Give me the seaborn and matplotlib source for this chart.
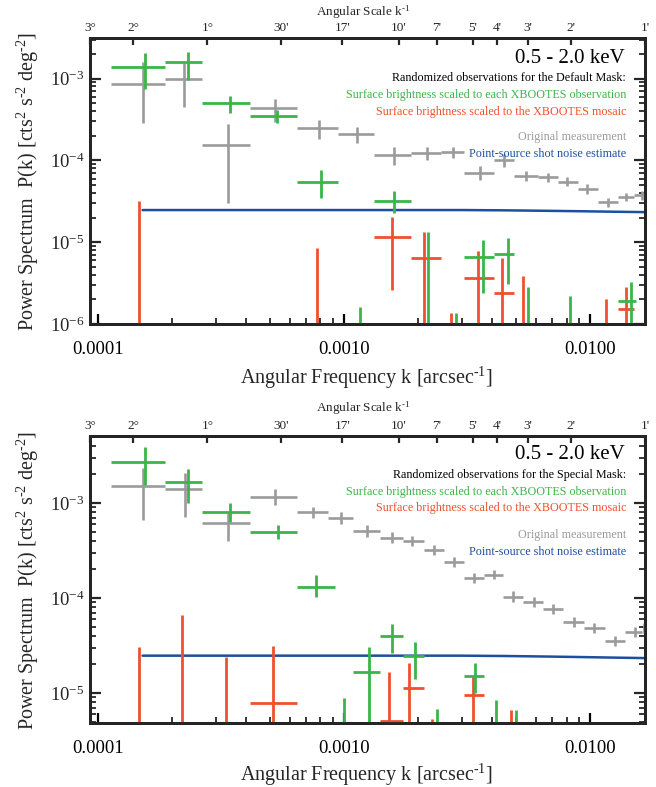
import numpy as np
import pandas as pd
import matplotlib
matplotlib.use("Agg")
import matplotlib.pyplot as plt
import seaborn as sns
from matplotlib.ticker import LogLocator, NullLocator, NullFormatter

# ---------------- data ----------------
# angular-scale axis (top)
top_tick_k = [1/10800, 1/7200, 1/3600, 1/1800, 1/1020, 1/600, 1/420, 1/300, 1/240, 1/180, 1/120, 1/60]
top_tick_labels = ["3°", "2°", "1°", "30'", "17'", "10'", "7'", "5'", "4'", "3'", "2'", "1'"]
bottom_tick_k = [1e-4, 1e-3, 1e-2]
bottom_tick_labels = ["0.0001", "0.0010", "0.0100"]

# shot noise estimate (same in both panels)
shot_k = [1.514e-4, 3.0e-3, 4.5e-3, 6.5e-3, 9.0e-3, 1.2e-2, 1.667e-2]
shot_p = [2.47e-5, 2.47e-5, 2.45e-5, 2.42e-5, 2.39e-5, 2.36e-5, 2.33e-5]

# ---- top panel: Default Mask ----
t_gray_k = [1.514e-4, 2.222e-4, 3.364e-4, 5.23e-4, 7.91e-4, 1.130e-3, 1.585e-3, 2.162e-3, 2.760e-3,
            3.56e-3, 4.46e-3, 5.48e-3, 6.75e-3, 8.05e-3, 9.73e-3, 1.184e-2, 1.40e-2, 1.615e-2]
t_gray_klo = [1.129e-4, 1.876e-4, 2.632e-4, 4.13e-4, 6.43e-4, 9.46e-4, 1.325e-3, 1.859e-3, 2.466e-3,
              3.06e-3, 4.06e-3, 4.90e-3, 6.14e-3, 7.40e-3, 8.93e-3, 1.078e-2, 1.30e-2, 1.51e-2]
t_gray_khi = [1.876e-4, 2.632e-4, 4.13e-4, 6.43e-4, 9.46e-4, 1.325e-3, 1.859e-3, 2.466e-3, 3.06e-3,
              4.06e-3, 4.90e-3, 6.14e-3, 7.40e-3, 8.93e-3, 1.078e-2, 1.30e-2, 1.51e-2, 1.72e-2]
t_gray_p = [8.57e-4, 9.86e-4, 1.54e-4, 4.35e-4, 2.48e-4, 2.10e-4, 1.16e-4, 1.23e-4, 1.26e-4,
            7.0e-5, 1.01e-4, 6.43e-5, 6.25e-5, 5.43e-5, 4.46e-5, 3.09e-5, 3.56e-5, 3.76e-5]
t_gray_plo = [2.86e-4, 4.49e-4, 3.0e-5, 2.94e-4, 1.82e-4, 1.63e-4, 8.77e-5, 1.01e-4, 1.07e-4,
              5.74e-5, 8.28e-5, 5.6e-5, 5.5e-5, 4.8e-5, 3.9e-5, 2.7e-5, 3.15e-5, 3.3e-5]
t_gray_phi = [1.59e-3, 1.55e-3, 2.78e-4, 5.61e-4, 3.11e-4, 2.55e-4, 1.46e-4, 1.46e-4, 1.46e-4,
              8.51e-5, 1.19e-4, 7.4e-5, 7.1e-5, 6.2e-5, 5.1e-5, 3.5e-5, 4.0e-5, 4.25e-5]

t_green_k = [1.542e-4, 2.307e-4, 3.43e-4, 5.33e-4, 8.05e-4, 1.162e-3, 1.585e-3, 2.18e-3, 2.84e-3,
             3.66e-3, 4.62e-3, 5.58e-3, 8.28e-3, 1.456e-2]
t_green_klo = [1.129e-4, 1.876e-4, 2.632e-4, 4.13e-4, 6.43e-4, 9.46e-4, 1.325e-3, 1.859e-3, 2.466e-3,
               3.06e-3, 4.06e-3, 4.90e-3, 7.40e-3, 1.30e-2]
t_green_khi = [1.876e-4, 2.632e-4, 4.13e-4, 6.43e-4, 9.46e-4, 1.325e-3, 1.859e-3, 2.466e-3, 3.06e-3,
               4.06e-3, 4.90e-3, 6.14e-3, 8.93e-3, 1.53e-2]
t_green_p = [1.38e-3, 1.59e-3, 5.01e-4, 3.48e-4, 5.43e-5, 5e-7, 3.18e-5, 5e-7, 5e-7,
             6.58e-6, 7.15e-6, 5e-7, 5e-7, 1.90e-6]
t_green_plo = [7.44e-4, 9.59e-4, 3.79e-4, 2.86e-4, 3.46e-5, 1e-8, 2.27e-5, 1e-8, 1e-8,
               2.39e-6, 3.08e-6, 1e-8, 1e-8, 1e-8]
t_green_phi = [2.05e-3, 2.11e-3, 6.11e-4, 4.12e-4, 7.6e-5, 1.61e-6, 4.22e-5, 1.33e-5, 1.36e-6,
               1.06e-5, 1.12e-5, 2.83e-6, 2.19e-6, 3.25e-6]

t_red_k = [1.469e-4, 7.76e-4, 1.556e-3, 2.10e-3, 2.71e-3, 3.49e-3, 4.38e-3, 5.33e-3, 1.162e-2, 1.40e-2]
t_red_klo = [1.129e-4, 6.43e-4, 1.325e-3, 1.859e-3, 2.466e-3, 3.06e-3, 4.06e-3, 4.90e-3, 1.078e-2, 1.30e-2]
t_red_khi = [1.876e-4, 9.46e-4, 1.859e-3, 2.466e-3, 3.06e-3, 4.06e-3, 4.90e-3, 6.14e-3, 1.30e-2, 1.51e-2]
t_red_p = [5e-7, 5e-7, 1.16e-5, 6.4e-6, 5e-7, 3.64e-6, 2.39e-6, 5e-7, 5e-7, 1.52e-6]
t_red_plo = [1e-8, 1e-8, 2.60e-6, 1e-8, 1e-8, 1e-8, 1e-8, 1e-8, 1e-8, 1e-8]
t_red_phi = [3.18e-5, 8.47e-6, 2.03e-5, 1.33e-5, 1.36e-6, 7.78e-6, 6.4e-6, 3.85e-6, 2.01e-6, 2.83e-6]

# ---- bottom panel: Special Mask ----
b_gray_k = [1.514e-4, 2.244e-4, 3.364e-4, 5.23e-4, 7.47e-4, 9.72e-4, 1.241e-3, 1.556e-3, 1.877e-3,
            2.31e-3, 2.79e-3, 3.36e-3, 4.06e-3, 4.85e-3, 5.91e-3, 7.06e-3, 8.61e-3, 1.038e-2,
            1.253e-2, 1.513e-2, 1.655e-2]
b_gray_klo = [1.129e-4, 1.876e-4, 2.632e-4, 4.13e-4, 6.43e-4, 8.61e-4, 1.088e-3, 1.402e-3, 1.725e-3,
              2.10e-3, 2.54e-3, 3.06e-3, 3.69e-3, 4.42e-3, 5.33e-3, 6.43e-3, 7.76e-3, 9.46e-3,
              1.141e-2, 1.377e-2, 1.63e-2]
b_gray_khi = [1.876e-4, 2.632e-4, 4.13e-4, 6.43e-4, 8.61e-4, 1.088e-3, 1.402e-3, 1.725e-3, 2.10e-3,
              2.54e-3, 3.06e-3, 3.69e-3, 4.42e-3, 5.33e-3, 6.43e-3, 7.76e-3, 9.46e-3, 1.141e-2,
              1.377e-2, 1.615e-2, 1.75e-2]
b_gray_p = [1.51e-3, 1.40e-3, 6.16e-4, 1.16e-3, 8.04e-4, 6.95e-4, 5.07e-4, 4.28e-4, 3.98e-4,
            3.2e-4, 2.39e-4, 1.63e-4, 1.75e-4, 1.03e-4, 9.08e-5, 7.66e-5, 5.58e-5, 4.83e-5,
            3.52e-5, 4.39e-5, 4.83e-5]
b_gray_plo = [6.62e-4, 7.12e-4, 3.98e-4, 9.53e-4, 6.95e-4, 6.0e-4, 4.4e-4, 3.75e-4, 3.55e-4,
              2.8e-4, 2.1e-4, 1.43e-4, 1.57e-4, 9.0e-5, 8.0e-5, 6.8e-5, 4.95e-5, 4.3e-5,
              3.1e-5, 3.9e-5, 4.3e-5]
b_gray_phi = [2.33e-3, 2.07e-3, 7.85e-4, 1.40e-3, 9.08e-4, 8.0e-4, 5.8e-4, 4.9e-4, 4.5e-4,
              3.65e-4, 2.7e-4, 1.85e-4, 1.95e-4, 1.17e-4, 1.03e-4, 8.6e-5, 6.3e-5, 5.45e-5,
              4.0e-5, 4.95e-5, 5.4e-5]

b_green_k = [1.542e-4, 2.307e-4, 3.43e-4, 5.38e-4, 7.69e-4, 1.0e-3, 1.265e-3, 1.556e-3, 1.932e-3,
             2.38e-3, 3.40e-3, 4.13e-3, 4.99e-3]
b_green_klo = [1.129e-4, 1.876e-4, 2.632e-4, 4.13e-4, 6.43e-4, 8.61e-4, 1.088e-3, 1.402e-3, 1.725e-3,
               2.10e-3, 3.06e-3, 3.69e-3, 4.42e-3]
b_green_khi = [1.876e-4, 2.632e-4, 4.13e-4, 6.43e-4, 9.2e-4, 1.088e-3, 1.402e-3, 1.725e-3, 2.10e-3,
               2.54e-3, 3.69e-3, 4.42e-3, 5.33e-3]
b_green_p = [2.70e-3, 1.66e-3, 8.04e-4, 4.95e-4, 1.31e-4, 1e-6, 1.66e-5, 3.98e-5, 2.45e-5,
             1e-6, 1.51e-5, 1e-6, 1e-6]
b_green_plo = [1.55e-3, 1.0e-3, 6.31e-4, 4.18e-4, 1.03e-4, 1e-8, 1e-8, 2.64e-5, 1.40e-5,
               1e-8, 1.0e-5, 1e-8, 1e-8]
b_green_phi = [3.88e-3, 2.28e-3, 1.0e-3, 5.86e-4, 1.75e-4, 8.86e-6, 3.05e-5, 5.32e-5, 3.44e-5,
               6.79e-6, 2.07e-5, 8.44e-6, 6.62e-6]

b_red_k = [1.469e-4, 2.20e-4, 3.30e-4, 5.13e-4, 1.514e-3, 1.84e-3, 2.27e-3, 3.33e-3, 4.76e-3]
b_red_klo = [1.129e-4, 1.876e-4, 2.632e-4, 4.13e-4, 1.402e-3, 1.725e-3, 2.10e-3, 3.06e-3, 4.42e-3]
b_red_khi = [1.876e-4, 2.632e-4, 4.13e-4, 6.43e-4, 1.725e-3, 2.10e-3, 2.54e-3, 3.69e-3, 5.33e-3]
b_red_p = [1e-6, 1e-6, 1e-6, 7.85e-6, 5.07e-6, 1.13e-5, 1e-6, 9.53e-6, 1e-6]
b_red_plo = [1e-8, 1e-8, 1e-8, 1e-8, 1e-8, 1e-8, 1e-8, 1e-8, 1e-8]
b_red_phi = [3.05e-5, 6.62e-5, 2.39e-5, 3.13e-5, 1.66e-5, 2.07e-5, 5.3e-6, 1.51e-5, 6.62e-6]

panel_masks = ["Default", "Special"]
top_ylim = (1e-6, 3.13e-3)
bot_ylim = (4.83e-6, 5.07e-3)
xlim = (1/10800, 1/60)

# ---------------- style ----------------
sns.set_theme(style="ticks")
plt.rcParams["font.family"] = ["Liberation Serif", "DejaVu Serif"]
plt.rcParams["mathtext.fontset"] = "custom"
plt.rcParams["mathtext.rm"] = "Liberation Serif"
plt.rcParams["mathtext.it"] = "Liberation Serif:italic"
plt.rcParams["mathtext.bf"] = "Liberation Serif:bold"
plt.rcParams["axes.unicode_minus"] = False

GREEN = "#3BB54A"
RED = "#F0502F"
GRAY = "#9B9B9B"
BLUE = "#1C4F9E"

fig = plt.figure(figsize=(6.56, 7.87), dpi=100)
L, W = 90 / 656, 555 / 656
ax_top = fig.add_axes([L, 1 - 324 / 787, W, 286 / 787])
ax_bot = fig.add_axes([L, 1 - 723 / 787, W, 287 / 787])


def draw_err(ax, k, klo, khi, p, plo, phi, color, lw, z):
    k = np.asarray(k); klo = np.asarray(klo); khi = np.asarray(khi)
    p = np.asarray(p); plo = np.asarray(plo); phi = np.asarray(phi)
    ax.errorbar(k, p, xerr=[k - klo, khi - k], yerr=[p - plo, phi - p], fmt="none",
                ecolor=color, elinewidth=lw, capsize=0, zorder=z)


def style_axes(ax, ylim, mask, title_y):
    ax.set_xscale("log")
    ax.set_yscale("log")
    ax.set_xlim(*xlim)
    ax.set_ylim(*ylim)
    for s in ax.spines.values():
        s.set_visible(True)
        s.set_linewidth(2.0)
        s.set_color("black")
    ax.set_xticks(bottom_tick_k)
    ax.set_xticklabels(bottom_tick_labels)
    ax.xaxis.set_minor_locator(LogLocator(base=10, subs=np.arange(2, 10)))
    ax.xaxis.set_minor_formatter(NullFormatter())
    ax.yaxis.set_major_locator(LogLocator(base=10, numticks=20))
    ax.yaxis.set_minor_locator(LogLocator(base=10, subs=np.arange(2, 10), numticks=20))
    ax.yaxis.set_minor_formatter(NullFormatter())
    ax.tick_params(axis="x", which="major", direction="in", length=7, width=1.6,
                   labelsize=13.5, pad=12, top=False, bottom=True, colors="black")
    ax.tick_params(axis="x", which="minor", direction="in", length=4, width=1.3,
                   top=False, bottom=True)
    ax.tick_params(axis="y", which="major", direction="in", length=8, width=1.6,
                   labelsize=13.5, pad=4, left=True, right=True)
    ax.tick_params(axis="y", which="minor", direction="in", length=4.5, width=1.3,
                   left=True, right=True)
    ax.grid(False)
    ax.set_facecolor("white")

    ax2 = ax.twiny()
    ax2.set_xscale("log")
    ax2.set_xlim(*xlim)
    ax2.set_xticks(top_tick_k)
    ax2.set_xticklabels(top_tick_labels)
    ax2.xaxis.set_minor_locator(NullLocator())
    ax2.tick_params(axis="x", which="major", direction="in", length=5, width=1.6,
                    labelsize=9.5, pad=3)
    for s in ax2.spines.values():
        s.set_linewidth(2.0)

    xr = 0.966
    ax.text(0.964, title_y[0], "0.5 - 2.0 keV", transform=ax.transAxes, ha="right",
            va="center", fontsize=15, color="black")
    ax.text(xr, title_y[1], f"Randomized observations for the {mask} Mask:",
            transform=ax.transAxes, ha="right", va="center", fontsize=8.7, color="black")
    ax.text(xr, title_y[2], "Surface brightness scaled to each XBOOTES observation",
            transform=ax.transAxes, ha="right", va="center", fontsize=8.7, color=GREEN)
    ax.text(xr, title_y[3], "Surface brightness scaled to the XBOOTES mosaic",
            transform=ax.transAxes, ha="right", va="center", fontsize=8.7, color=RED)
    ax.text(xr, title_y[4], "Original measurement",
            transform=ax.transAxes, ha="right", va="center", fontsize=8.7, color=GRAY)
    ax.text(xr, title_y[5], "Point-source shot noise estimate",
            transform=ax.transAxes, ha="right", va="center", fontsize=8.7, color=BLUE)


shot_df = pd.DataFrame({"k": shot_k, "P": shot_p})

# top panel
sns.lineplot(data=shot_df, x="k", y="P", ax=ax_top, color=BLUE, linewidth=1.8,
             legend=False, zorder=2, estimator=None, sort=True)
draw_err(ax_top, t_gray_k, t_gray_klo, t_gray_khi, t_gray_p, t_gray_plo, t_gray_phi, GRAY, 1.9, 3)
draw_err(ax_top, t_red_k, t_red_klo, t_red_khi, t_red_p, t_red_plo, t_red_phi, RED, 2.0, 4)
draw_err(ax_top, t_green_k, t_green_klo, t_green_khi, t_green_p, t_green_plo, t_green_phi, GREEN, 2.0, 5)
ax_top.set_xlabel("")
ax_top.set_ylabel("")
style_axes(ax_top, top_ylim, panel_masks[0], [0.930, 0.860, 0.801, 0.741, 0.654, 0.594])

# bottom panel
sns.lineplot(data=shot_df, x="k", y="P", ax=ax_bot, color=BLUE, linewidth=1.8,
             legend=False, zorder=2, estimator=None, sort=True)
draw_err(ax_bot, b_gray_k, b_gray_klo, b_gray_khi, b_gray_p, b_gray_plo, b_gray_phi, GRAY, 1.9, 3)
draw_err(ax_bot, b_red_k, b_red_klo, b_red_khi, b_red_p, b_red_plo, b_red_phi, RED, 2.0, 4)
draw_err(ax_bot, b_green_k, b_green_klo, b_green_khi, b_green_p, b_green_plo, b_green_phi, GREEN, 2.0, 5)
ax_bot.set_xlabel("")
ax_bot.set_ylabel("")
style_axes(ax_bot, bot_ylim, panel_masks[1], [0.934, 0.864, 0.805, 0.749, 0.655, 0.596])

# axis titles (figure coordinates)
ylab = r"Power Spectrum  P(k) [cts$^2$ s$^{\text{-}2}$ deg$^{\text{-}2}$]"
xlab = r"Angular Frequency k [arcsec$^{\text{-}1}$]"
toplab = r"Angular Scale k$^{\text{-}1}$"
fig.text(363 / 656, 1 - 12 / 787, toplab, ha="center", va="center", fontsize=9.5)
fig.text(363 / 656, 1 - 408 / 787, toplab, ha="center", va="center", fontsize=9.5)
fig.text(366 / 656, 1 - 378 / 787, xlab, ha="center", va="center", fontsize=14.5)
fig.text(366 / 656, 1 - 775 / 787, xlab, ha="center", va="center", fontsize=14.5)
fig.text(28 / 656, 1 - 181 / 787, ylab, ha="center", va="center", rotation=90, fontsize=14.5)
fig.text(28 / 656, 1 - 580 / 787, ylab, ha="center", va="center", rotation=90, fontsize=14.5)

fig.savefig("out.png", dpi=100)
